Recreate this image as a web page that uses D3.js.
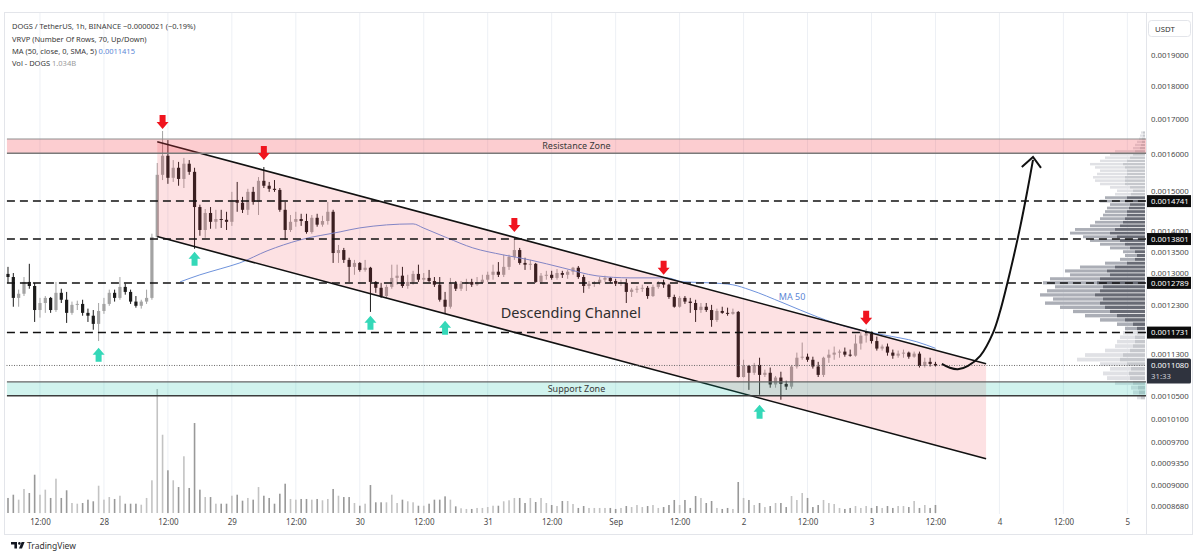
<!DOCTYPE html>
<html>
<head>
<meta charset="utf-8">
<script src="https://cdn.jsdelivr.net/npm/d3@7"></script>
<style>
  body { margin: 0; background: #fff; }
  svg { display: block; }
  text { font-family: "Noto Sans", "DejaVu Sans", sans-serif; }
</style>
</head>
<body>
<svg id="chart"></svg>
<script>

// ---- data (DOGS / USDT, 1h, Binance) ----

// first candle: Aug 27 06:00 UTC, one candle per hour
var firstCandle = Date.UTC(2024, 7, 27, 6);

var opens = [
  0.001299,0.001292,0.001246,0.001255,0.001281,0.001272,0.001220,0.001235,0.001246,0.001220,
  0.001257,0.001242,0.001214,0.001231,0.001233,0.001214,0.001208,0.001191,0.001218,0.001233,
  0.001257,0.001246,0.001270,0.001259,0.001238,0.001229,0.001238,0.001246,0.001385,0.001543,
  0.001595,0.001535,0.001562,0.001532,0.001573,0.001551,0.001459,0.001402,0.001444,0.001422,
  0.001429,0.001427,0.001422,0.001477,0.001470,0.001452,0.001498,0.001472,0.001527,0.001514,
  0.001506,0.001503,0.001452,0.001402,0.001422,0.001429,0.001424,0.001397,0.001432,0.001415,
  0.001424,0.001447,0.001347,0.001354,0.001331,0.001315,0.001324,0.001308,0.001313,0.001281,
  0.001268,0.001250,0.001270,0.001290,0.001295,0.001272,0.001281,0.001299,0.001286,0.001290,
  0.001283,0.001275,0.001242,0.001227,0.001277,0.001266,0.001277,0.001281,0.001275,0.001279,
  0.001286,0.001297,0.001304,0.001297,0.001315,0.001338,0.001354,0.001324,0.001320,0.001322,
  0.001281,0.001295,0.001297,0.001290,0.001301,0.001297,0.001304,0.001313,0.001292,0.001272,
  0.001277,0.001279,0.001286,0.001290,0.001283,0.001277,0.001279,0.001259,0.001264,0.001266,
  0.001268,0.001250,0.001270,0.001279,0.001275,0.001248,0.001227,0.001246,0.001238,0.001235,
  0.001220,0.001227,0.001220,0.001199,0.001218,0.001214,0.001212,0.001216,0.001086,0.001107,
  0.001094,0.001109,0.001090,0.001094,0.001072,0.001085,0.001073,0.001068,0.001106,0.001123,
  0.001125,0.001119,0.001106,0.001090,0.001123,0.001129,0.001133,0.001135,0.001129,0.001127,
  0.001151,0.001167,0.001171,0.001156,0.001141,0.001145,0.001133,0.001127,0.001131,0.001133,
  0.001125,0.001131,0.001107,0.001115,0.001111
];
var highs = [
  0.001315,0.001301,0.001264,0.001292,0.001322,0.001279,0.001246,0.001250,0.001248,0.001281,
  0.001266,0.001259,0.001238,0.001240,0.001242,0.001223,0.001220,0.001235,0.001246,0.001264,
  0.001264,0.001292,0.001277,0.001264,0.001250,0.001242,0.001264,0.001393,0.001575,0.001665,
  0.001639,0.001583,0.001578,0.001589,0.001583,0.001562,0.001465,0.001454,0.001459,0.001452,
  0.001452,0.001447,0.001498,0.001524,0.001485,0.001506,0.001511,0.001537,0.001564,0.001524,
  0.001529,0.001508,0.001472,0.001439,0.001447,0.001442,0.001442,0.001439,0.001442,0.001437,
  0.001472,0.001452,0.001366,0.001359,0.001336,0.001331,0.001326,0.001331,0.001315,0.001283,
  0.001279,0.001275,0.001320,0.001320,0.001315,0.001297,0.001306,0.001320,0.001301,0.001308,
  0.001292,0.001292,0.001259,0.001290,0.001283,0.001283,0.001288,0.001288,0.001292,0.001297,
  0.001304,0.001320,0.001326,0.001343,0.001343,0.001383,0.001359,0.001336,0.001331,0.001324,
  0.001301,0.001306,0.001306,0.001310,0.001306,0.001308,0.001315,0.001317,0.001297,0.001283,
  0.001283,0.001292,0.001295,0.001292,0.001288,0.001286,0.001288,0.001268,0.001272,0.001275,
  0.001272,0.001275,0.001283,0.001286,0.001277,0.001253,0.001250,0.001250,0.001246,0.001242,
  0.001235,0.001235,0.001231,0.001223,0.001227,0.001225,0.001223,0.001218,0.001119,0.001109,
  0.001113,0.001123,0.001100,0.001104,0.001088,0.001096,0.001079,0.001109,0.001133,0.001153,
  0.001131,0.001125,0.001115,0.001125,0.001139,0.001145,0.001139,0.001143,0.001139,0.001169,
  0.001175,0.001181,0.001175,0.001165,0.001149,0.001151,0.001139,0.001137,0.001139,0.001135,
  0.001135,0.001135,0.001123,0.001123,0.001115
];
var lows = [
  0.001279,0.001227,0.001227,0.001250,0.001266,0.001195,0.001204,0.001214,0.001214,0.001216,
  0.001235,0.001193,0.001210,0.001220,0.001208,0.001195,0.001179,0.001156,0.001212,0.001229,
  0.001238,0.001242,0.001253,0.001233,0.001225,0.001223,0.001233,0.001242,0.001378,0.001529,
  0.001519,0.001524,0.001514,0.001508,0.001543,0.001357,0.001388,0.001383,0.001405,0.001405,
  0.001407,0.001402,0.001412,0.001447,0.001444,0.001439,0.001465,0.001439,0.001508,0.001498,
  0.001498,0.001447,0.001378,0.001397,0.001410,0.001412,0.001393,0.001393,0.001410,0.001410,
  0.001415,0.001324,0.001324,0.001324,0.001281,0.001297,0.001304,0.001304,0.001216,0.001257,
  0.001246,0.001246,0.001266,0.001275,0.001268,0.001266,0.001275,0.001281,0.001281,0.001281,
  0.001270,0.001238,0.001212,0.001223,0.001261,0.001261,0.001261,0.001270,0.001272,0.001277,
  0.001281,0.001286,0.001292,0.001292,0.001308,0.001331,0.001320,0.001308,0.001308,0.001279,
  0.001277,0.001286,0.001286,0.001286,0.001290,0.001288,0.001297,0.001288,0.001257,0.001266,
  0.001270,0.001275,0.001281,0.001279,0.001272,0.001272,0.001235,0.001248,0.001257,0.001259,
  0.001244,0.001248,0.001266,0.001268,0.001244,0.001225,0.001225,0.001233,0.001214,0.001195,
  0.001214,0.001216,0.001185,0.001195,0.001212,0.001208,0.001210,0.001085,0.001085,0.001062,
  0.001090,0.001053,0.001086,0.001066,0.001066,0.001044,0.001062,0.001064,0.001102,0.001119,
  0.001115,0.001102,0.001086,0.001086,0.001113,0.001119,0.001123,0.001125,0.001125,0.001125,
  0.001139,0.001153,0.001151,0.001137,0.001137,0.001127,0.001121,0.001123,0.001123,0.001121,
  0.001123,0.001104,0.001104,0.001106,0.001106
];
var closes = [
  0.001292,0.001246,0.001255,0.001281,0.001272,0.001220,0.001235,0.001246,0.001220,0.001257,
  0.001242,0.001214,0.001231,0.001233,0.001214,0.001208,0.001191,0.001218,0.001233,0.001257,
  0.001246,0.001270,0.001259,0.001238,0.001229,0.001238,0.001246,0.001385,0.001543,0.001595,
  0.001535,0.001562,0.001532,0.001573,0.001551,0.001459,0.001402,0.001444,0.001422,0.001429,
  0.001427,0.001422,0.001477,0.001470,0.001452,0.001498,0.001472,0.001527,0.001514,0.001506,
  0.001503,0.001452,0.001402,0.001422,0.001429,0.001424,0.001397,0.001432,0.001415,0.001424,
  0.001447,0.001347,0.001354,0.001331,0.001315,0.001324,0.001308,0.001313,0.001281,0.001268,
  0.001250,0.001270,0.001290,0.001295,0.001272,0.001281,0.001299,0.001286,0.001290,0.001283,
  0.001275,0.001242,0.001227,0.001277,0.001266,0.001277,0.001281,0.001275,0.001279,0.001286,
  0.001297,0.001304,0.001297,0.001315,0.001338,0.001354,0.001324,0.001320,0.001322,0.001281,
  0.001295,0.001297,0.001290,0.001301,0.001297,0.001304,0.001313,0.001292,0.001272,0.001277,
  0.001279,0.001286,0.001290,0.001283,0.001277,0.001279,0.001259,0.001264,0.001266,0.001268,
  0.001250,0.001270,0.001279,0.001275,0.001248,0.001227,0.001246,0.001238,0.001235,0.001220,
  0.001227,0.001220,0.001199,0.001218,0.001214,0.001212,0.001216,0.001086,0.001107,0.001094,
  0.001109,0.001090,0.001094,0.001072,0.001085,0.001073,0.001068,0.001106,0.001123,0.001125,
  0.001119,0.001106,0.001090,0.001123,0.001129,0.001133,0.001135,0.001129,0.001127,0.001151,
  0.001167,0.001171,0.001156,0.001141,0.001145,0.001133,0.001127,0.001131,0.001133,0.001125,
  0.001131,0.001107,0.001115,0.001111,0.001108
];
// volume, billions of DOGS
var volumes = [
  1.94,2.36,1.72,3.10,2.58,4.94,2.36,3.01,1.94,4.43,
  1.94,2.93,1.29,1.20,1.29,1.72,1.51,3.52,1.72,2.06,
  1.81,2.23,1.20,1.20,1.20,1.07,1.94,4.22,16.0,10.10,
  5.51,4.22,3.35,7.32,3.23,11.61,3.01,2.06,2.06,1.20,
  1.20,1.20,2.23,2.36,1.59,1.94,1.72,3.35,2.23,1.94,
  1.20,2.49,3.78,1.81,1.72,1.81,1.81,1.72,1.81,1.64,
  1.81,3.10,2.23,2.06,2.06,1.29,0.94,1.20,3.61,1.38,
  1.38,1.38,2.36,1.29,1.72,1.51,1.38,0.94,0.94,1.20,
  1.72,1.72,2.15,1.72,0.86,0.61,0.52,0.52,0.65,0.65,
  0.77,0.94,0.94,1.51,1.64,1.94,1.94,1.29,1.94,1.42,
  1.94,1.29,1.03,0.90,1.55,1.55,1.16,0.65,0.90,0.65,
  0.65,0.65,0.65,0.65,0.52,0.65,0.90,0.77,1.03,0.77,
  0.90,1.03,0.65,0.77,1.03,1.68,1.03,1.68,0.65,2.19,
  1.94,1.29,1.55,0.65,0.52,0.65,0.52,4.00,1.94,1.68,
  1.03,1.29,0.77,0.90,1.29,1.29,0.77,2.19,1.68,2.58,
  1.94,0.77,1.03,1.68,1.29,1.16,0.65,0.52,0.65,0.90,
  0.65,0.90,0.65,0.90,0.65,0.90,0.65,0.90,0.90,0.77,
  1.55,0.65,1.03,0.65,1.034
];

// MA 50 (hours after first candle, value)
var maHours = [32.3,36,39.8,43.5,48.6,54.8,62.3,66,76,77.9,82.4,87.2,92.9,97.9,
  104.1,110.5,116.7,123.6,126.6,131.7,136,139.2,145.4,151.8,158,164.2,170.5,174];
var maValues = [0.0012812,0.0012969,0.0013104,0.0013241,0.0013520,0.0013781,0.0013974,
  0.0014071,0.0014169,0.0014071,0.0013829,0.0013591,0.0013427,0.0013310,0.0013127,
  0.0012946,0.0012901,0.0012901,0.0012812,0.0012790,0.0012746,0.0012635,0.0012353,
  0.0012057,0.0011828,0.0011686,0.0011545,0.0011415];

// visible range volume profile, 70 rows, bottom row first
var profileLow = 0.001044, profileHigh = 0.001665;
var profileUp = [4,6,7,12,15,16,14,18,25,22,15,12,10,10,8,8,12,20,28,35,
  40,45,42,50,45,42,48,45,35,38,30,18,10,8,10,15,20,25,28,35,
  30,25,22,20,18,18,16,15,20,18,14,12,15,20,20,20,18,18,20,22,
  18,15,12,10,5,4,3,3,2,2];
var profileDown = [4,6,7,18,23,26,21,27,43,38,25,18,18,15,14,12,16,25,32,37,
  45,55,50,55,53,48,54,50,40,42,35,22,15,12,12,20,25,30,34,40,
  40,30,28,25,24,22,22,20,25,22,16,16,20,25,30,32,30,27,30,33,
  27,25,23,20,7,6,5,3,3,2];
var valueAreaRows = [15, 49];

// drawings
var resistanceZone = [0.001602, 0.001642];
var supportZone = [0.001051, 0.001077];
var levels = [0.0014741, 0.0013801, 0.0012789, 0.0011731];
var channelHours = [28, 183.5];
var channelUpper = [0.0016345, 0.0011112];
var channelLower = [0.0013860, 0.0009422];
var topCandles = [29, 48, 95, 123, 161];
var topArrowPrices = [0.001671, 0.001583, 0.001397, 0.001297, 0.001189];
var bottomCandles = [17, 35, 68, 82, 141];
var bottomArrowPrices = [0.0011425, 0.0013497, 0.0012078, 0.0011973, 0.0010348];
var pathHours = [175.2,176.7,178.2,180.1,182.4,184.8,186.1,188.0,189.9,191.2,192.3];
var pathPrices = [0.0011112,0.0011036,0.0011007,0.0011074,0.0011267,0.0011726,
  0.0012162,0.0013036,0.0014096,0.0014979,0.0015834];
var headHours = [190.2, 192.3, 193.8];
var headPrices = [0.0015642, 0.0015917, 0.0015616];

var priceTicks = [0.0019, 0.0018, 0.0017, 0.0016, 0.0015, 0.0014, 0.00135, 0.0013,
  0.00123, 0.00113, 0.00105, 0.00101, 0.00097, 0.000935, 0.0009, 0.000868];
var countdown = "31:33";

// ---- layout ----

var width = 1200, height = 555;
var plotLeft = 4, plotRight = 1146, plotTop = 13, plotBottom = 514;

var at = function (h) { return new Date(firstCandle + h * 36e5); };

var svg = d3.select("#chart").attr("width", width).attr("height", height);

var x = d3.scaleUtc()
  .domain([at(-1.5), at(213.5)])
  .range([0, plotRight]);

var y = d3.scaleLog()
  .domain([0.000868, 0.0019])
  .range([506, 55]);

var vol = d3.scaleLinear()
  .domain([0, 16])
  .range([plotBottom - 1, 389]);

var candles = closes.map(function (c, i) {
  return { t: at(i), o: opens[i], h: highs[i], l: lows[i], c: c, v: volumes[i] };
});

svg.append("rect").attr("width", width).attr("height", height).attr("fill", "#fff");

svg.append("clipPath").attr("id", "plot")
  .append("rect")
  .attr("x", plotLeft).attr("y", plotTop)
  .attr("width", plotRight - plotLeft).attr("height", plotBottom - plotTop);

var plot = svg.append("g").attr("clip-path", "url(#plot)");

// vertical grid
var timeTicks = d3.utcHour.every(12).range(new Date(Date.UTC(2024, 7, 27, 12)), new Date(Date.UTC(2024, 8, 5, 1)));

plot.append("g")
  .selectAll("line")
  .data(timeTicks)
  .enter()
  .append("line")
  .attr("x1", function (d) { return x(d); })
  .attr("x2", function (d) { return x(d); })
  .attr("y1", plotTop).attr("y2", plotBottom)
  .attr("stroke", "#edf0f5");

// volume bars
plot.append("g")
  .selectAll("rect")
  .data(candles)
  .enter()
  .append("rect")
  .attr("x", function (d) { return x(d.t) - 0.8; })
  .attr("y", function (d) { return vol(d.v); })
  .attr("width", 1.6)
  .attr("height", function (d) { return vol(0) - vol(d.v); })
  .attr("fill", function (d) { return d.c >= d.o ? "#c3c3c3" : "#999999"; });

// volume profile
var rowStep = (profileHigh - profileLow) / profileUp.length;
var rows = profileUp.map(function (u, i) {
  return { lo: profileLow + i * rowStep, hi: profileLow + (i + 1) * rowStep,
           up: u, down: profileDown[i],
           va: i >= valueAreaRows[0] && i <= valueAreaRows[1] };
});
var pw = d3.scaleLinear()
  .domain([0, d3.max(rows, function (r) { return r.up + r.down; })])
  .range([0, 105]);

var prof = plot.append("g");
prof.selectAll(".pu")
  .data(rows)
  .enter()
  .append("rect")
  .attr("x", function (r) { return plotRight - 1 - pw(r.up); })
  .attr("y", function (r) { return y(r.hi) + 0.4; })
  .attr("width", function (r) { return pw(r.up); })
  .attr("height", function (r) { return Math.max(0.5, y(r.lo) - y(r.hi) - 0.8); })
  .attr("fill", function (r) { return r.va ? "#686b75" : "#c6c8cd"; });
prof.selectAll(".pd")
  .data(rows)
  .enter()
  .append("rect")
  .attr("x", function (r) { return plotRight - 1 - pw(r.up) - pw(r.down); })
  .attr("y", function (r) { return y(r.hi) + 0.4; })
  .attr("width", function (r) { return pw(r.down); })
  .attr("height", function (r) { return Math.max(0.5, y(r.lo) - y(r.hi) - 0.8); })
  .attr("fill", function (r) { return r.va ? "#abaeb6" : "#e0e1e5"; });

// candles
var cg = plot.append("g");
cg.selectAll("line")
  .data(candles)
  .enter()
  .append("line")
  .attr("x1", function (d) { return x(d.t); })
  .attr("x2", function (d) { return x(d.t); })
  .attr("y1", function (d) { return y(d.h); })
  .attr("y2", function (d) { return y(d.l); })
  .attr("stroke", function (d) { return d.c >= d.o ? "#a3a3a3" : "#1c1c1c"; })
  .attr("stroke-width", 1);
cg.selectAll("rect")
  .data(candles)
  .enter()
  .append("rect")
  .attr("x", function (d) { return x(d.t) - 1.6; })
  .attr("y", function (d) { return y(Math.max(d.o, d.c)); })
  .attr("width", 3.2)
  .attr("height", function (d) { return Math.max(1, Math.abs(y(d.o) - y(d.c))); })
  .attr("fill", function (d) { return d.c >= d.o ? "#a3a3a3" : "#1c1c1c"; });

// MA 50
plot.append("path")
  .datum(maHours.map(function (h, i) { return [at(h), maValues[i]]; }))
  .attr("d", d3.line()
    .x(function (d) { return x(d[0]); })
    .y(function (d) { return y(d[1]); })
    .curve(d3.curveMonotoneX))
  .attr("fill", "none")
  .attr("stroke", "#6f93dc")
  .attr("stroke-width", 1);

// descending channel
var chX = channelHours.map(function (h) { return x(at(h)); });
plot.append("path")
  .attr("d", "M" + [chX[0], y(channelUpper[0])] + "L" + [chX[1], y(channelUpper[1])] +
             "L" + [chX[1], y(channelLower[1])] + "L" + [chX[0], y(channelLower[0])] + "Z")
  .attr("fill", "rgba(242,54,69,0.15)");
[channelUpper, channelLower].forEach(function (p) {
  plot.append("line")
    .attr("x1", chX[0]).attr("y1", y(p[0]))
    .attr("x2", chX[1]).attr("y2", y(p[1]))
    .attr("stroke", "#111").attr("stroke-width", 1.6);
});

// zones
var zoneX0 = x(at(-0.2));
function zone(range, fill, topStroke, bottomStroke, label) {
  var g = plot.append("g");
  g.append("rect")
    .attr("x", zoneX0).attr("y", y(range[1]))
    .attr("width", plotRight - zoneX0).attr("height", y(range[0]) - y(range[1]))
    .attr("fill", fill);
  g.append("line").attr("x1", zoneX0).attr("x2", plotRight)
    .attr("y1", y(range[1])).attr("y2", y(range[1]))
    .attr("stroke", topStroke).attr("stroke-width", 1.2);
  g.append("line").attr("x1", zoneX0).attr("x2", plotRight)
    .attr("y1", y(range[0])).attr("y2", y(range[0]))
    .attr("stroke", bottomStroke).attr("stroke-width", 1.5);
  g.append("text")
    .attr("x", (zoneX0 + plotRight) / 2)
    .attr("y", (y(range[0]) + y(range[1])) / 2)
    .attr("dy", "0.35em")
    .attr("text-anchor", "middle")
    .attr("font-size", 9)
    .attr("fill", "#3a3a3a")
    .text(label);
}
zone(resistanceZone, "rgba(242,54,69,0.25)", "#8f8f8f", "#7a7a7a", "Resistance Zone");
zone(supportZone, "rgba(0,190,160,0.18)", "#666", "#3c3c3c", "Support Zone");

// horizontal levels
plot.append("g")
  .selectAll("line")
  .data(levels)
  .enter()
  .append("line")
  .attr("x1", zoneX0).attr("x2", plotRight)
  .attr("y1", function (d) { return y(d); })
  .attr("y2", function (d) { return y(d); })
  .attr("stroke", "#111")
  .attr("stroke-width", 1.5)
  .attr("stroke-dasharray", "8,5");

// last price line
var lastPrice = closes[closes.length - 1];
plot.append("line")
  .attr("x1", plotLeft).attr("x2", plotRight)
  .attr("y1", y(lastPrice)).attr("y2", y(lastPrice))
  .attr("stroke", "#6a6a6a")
  .attr("stroke-dasharray", "1,1.5");

// arrows
function arrow(px, py, dir) {
  var s = dir;   // 1 = pointing down, -1 = pointing up
  return "M" + [px, py] + "L" + [px - 6, py - 7 * s] + "L" + [px - 3, py - 7 * s] +
         "L" + [px - 3, py - 14 * s] + "L" + [px + 3, py - 14 * s] +
         "L" + [px + 3, py - 7 * s] + "L" + [px + 6, py - 7 * s] + "Z";
}
plot.append("g")
  .selectAll("path")
  .data(topCandles)
  .enter()
  .append("path")
  .attr("d", function (k, i) { return arrow(x(at(k)), y(topArrowPrices[i]), 1); })
  .attr("fill", "#f0141e");
plot.append("g")
  .selectAll("path")
  .data(bottomCandles)
  .enter()
  .append("path")
  .attr("d", function (k, i) { return arrow(x(at(k)), y(bottomArrowPrices[i]), -1); })
  .attr("fill", "#34d8b8");

// projected move
var pline = d3.line()
  .x(function (d) { return x(at(d[0])); })
  .y(function (d) { return y(d[1]); });
plot.append("path")
  .datum(pathHours.map(function (h, i) { return [h, pathPrices[i]]; }))
  .attr("d", pline.curve(d3.curveCatmullRom))
  .attr("fill", "none").attr("stroke", "#111").attr("stroke-width", 2);
plot.append("path")
  .datum(headHours.map(function (h, i) { return [h, headPrices[i]]; }))
  .attr("d", d3.line()
    .x(function (d) { return x(at(d[0])); })
    .y(function (d) { return y(d[1]); }))
  .attr("fill", "none").attr("stroke", "#111").attr("stroke-width", 2)
  .attr("stroke-linejoin", "miter");

// labels on chart
plot.append("text")
  .attr("x", x(at(105.6))).attr("y", y(0.0012141))
  .attr("dy", "0.35em")
  .attr("text-anchor", "middle")
  .attr("font-size", 14.5)
  .attr("fill", "#2e2e2e")
  .text("Descending Channel");
plot.append("text")
  .attr("x", x(at(147.1))).attr("y", y(0.0012483))
  .attr("dy", "0.35em")
  .attr("text-anchor", "middle")
  .attr("font-size", 9)
  .attr("fill", "#5b86d6")
  .text("MA 50");

// ---- axes ----

var fmtTime = function (d) {
  if (d.getUTCHours() === 12) return "12:00";
  return d.getUTCDate() === 1 ? "Sep" : String(d.getUTCDate());
};
var xAxis = svg.append("g")
  .attr("transform", "translate(0," + plotBottom + ")")
  .call(d3.axisBottom(x).tickValues(timeTicks).tickFormat(fmtTime).tickSize(0).tickPadding(5));
xAxis.select(".domain").remove();
xAxis.selectAll("text").attr("font-size", 8).attr("fill", "#4a4a4a")
  .attr("font-family", "Noto Sans, sans-serif");

var yAxis = svg.append("g")
  .attr("transform", "translate(" + plotRight + ",0)")
  .call(d3.axisRight(y).tickValues(priceTicks).tickFormat(d3.format(".7f")).tickSize(0).tickPadding(5));
yAxis.select(".domain").remove();
yAxis.selectAll("text").attr("font-size", 7.8).attr("fill", "#4a4a4a")
  .attr("font-family", "Noto Sans, sans-serif");

// price badges
var badges = svg.append("g");
levels.forEach(function (p) {
  badges.append("rect")
    .attr("x", plotRight).attr("y", y(p) - 6)
    .attr("width", 45).attr("height", 12)
    .attr("fill", "#0c0c0c");
  badges.append("text")
    .attr("x", plotRight + 5).attr("y", y(p))
    .attr("dy", "0.35em")
    .attr("font-size", 7.8).attr("fill", "#fff")
    .text(d3.format(".7f")(p));
});
badges.append("rect")
  .attr("x", plotRight).attr("y", y(lastPrice) - 7)
  .attr("width", 45).attr("height", 25).attr("rx", 1.5)
  .attr("fill", "#2f333e");
badges.append("text")
  .attr("x", plotRight + 5).attr("y", y(lastPrice))
  .attr("dy", "0.35em")
  .attr("font-size", 7.8).attr("fill", "#fff")
  .text(d3.format(".7f")(lastPrice));
badges.append("text")
  .attr("x", plotRight + 5).attr("y", y(lastPrice) + 11)
  .attr("dy", "0.35em")
  .attr("font-size", 7.8).attr("fill", "#c9ccd4")
  .text(countdown);

// currency box
svg.append("rect")
  .attr("x", 1148.5).attr("y", 20.5).attr("width", 42).attr("height", 16).attr("rx", 3)
  .attr("fill", "#fff").attr("stroke", "#e3e5ea");
svg.append("text")
  .attr("x", 1155).attr("y", 31.5)
  .attr("font-size", 7.8).attr("fill", "#333")
  .text("USDT");

// frame
svg.append("rect")
  .attr("x", 4.5).attr("y", 12.5).attr("width", 1188).attr("height", 522)
  .attr("fill", "none").attr("stroke", "#e3e5ea");
svg.append("line")
  .attr("x1", plotRight + 0.5).attr("x2", plotRight + 0.5)
  .attr("y1", 12.5).attr("y2", 534.5)
  .attr("stroke", "#e3e5ea");

// ---- legend ----

var legend = svg.append("g").attr("font-size", 7.5).attr("fill", "#3a3a3a");
legend.append("text").attr("x", 12).attr("y", 29)
  .text("DOGS / TetherUS, 1h, BINANCE  \u22120.0000021 (\u22120.19%)");
legend.append("text").attr("x", 12).attr("y", 41.5)
  .text("VRVP (Number Of Rows, 70, Up/Down)");
var maText = legend.append("text").attr("x", 12).attr("y", 53.5)
  .text("MA (50, close, 0, SMA, 5) ");
maText.append("tspan").attr("fill", "#5b86d6").text(d3.format(".7f")(maValues[maValues.length - 1]));
var volText = legend.append("text").attr("x", 12).attr("y", 65.5).text("Vol - DOGS ");
volText.append("tspan").attr("fill", "#9a9a9a").text(d3.format(".3f")(volumes[volumes.length - 1]) + "B");

// ---- TradingView mark ----

var logo = svg.append("g").attr("fill", "#131722");
logo.append("path").attr("d", "M11,542h6v6.5h-2.6v-4h-3.4z");
logo.append("circle").attr("cx", 19.4).attr("cy", 543.4).attr("r", 1.3);
logo.append("path").attr("d", "M21.6,542h3l-2.6,6.5h-3z");
svg.append("text")
  .attr("x", 27).attr("y", 548.5)
  .attr("font-size", 8.5).attr("fill", "#333")
  .text("TradingView");

</script>
</body>
</html>
